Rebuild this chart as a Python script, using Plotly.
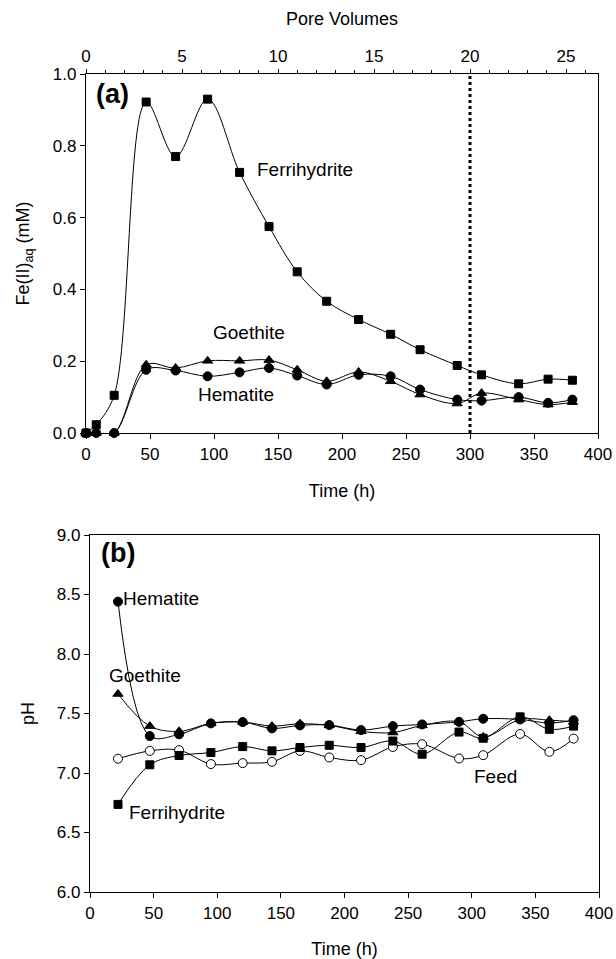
import plotly.graph_objects as go

# ---------------- data: panel (a) ----------------
time_a = [0, 8, 22, 47, 70, 95, 120, 143, 165, 188, 213, 238, 261, 290, 309, 338, 361, 380]
fe_ferrihydrite = [0.0, 0.023, 0.105, 0.922, 0.770, 0.930, 0.726, 0.575, 0.449, 0.367,
                   0.316, 0.275, 0.232, 0.188, 0.162, 0.137, 0.150, 0.147]
fe_goethite = [0.0, 0.0, 0.0, 0.190, 0.181, 0.201, 0.201, 0.203, 0.176, 0.144,
               0.170, 0.144, 0.107, 0.082, 0.111, 0.093, 0.079, 0.086]
fe_hematite = [0.0, 0.0, 0.0, 0.176, 0.174, 0.158, 0.169, 0.181, 0.160, 0.135,
               0.162, 0.158, 0.121, 0.093, 0.090, 0.100, 0.084, 0.093]

# ---------------- data: panel (b) ----------------
time_b = [22, 47, 70, 95, 120, 143, 165, 188, 213, 238, 261, 290, 309, 338, 361, 380]
ph_hematite = [8.44, 7.31, 7.325, 7.417, 7.428, 7.375, 7.40, 7.403, 7.361, 7.394,
               7.408, 7.43, 7.456, 7.45, 7.42, 7.444]
ph_goethite = [7.664, 7.394, 7.35, 7.417, 7.428, 7.394, 7.414, 7.40, 7.35, 7.34,
               7.40, 7.43, 7.303, 7.45, 7.444, 7.43]
ph_ferrihydrite = [6.736, 7.069, 7.147, 7.172, 7.222, 7.186, 7.214, 7.233, 7.214, 7.269,
                   7.158, 7.344, 7.292, 7.472, 7.367, 7.394]
ph_feed = [7.12, 7.186, 7.192, 7.075, 7.083, 7.094, 7.186, 7.131, 7.108, 7.219,
           7.242, 7.122, 7.15, 7.328, 7.178, 7.289]

time_ticks = [0, 50, 100, 150, 200, 250, 300, 350, 400]
pv_ticks = [0, 5, 10, 15, 20, 25]
hours_per_pv = 15
breakthrough_time = 300

FONT = "Liberation Sans, Arial, sans-serif"
W, H = 616, 959

fig = go.Figure()

line = dict(color="black", width=1, shape="spline", smoothing=1.0)

def add(x, y, symbol, xa, ya, size=8, fill="black"):
    fig.add_trace(go.Scatter(
        x=x, y=y, mode="lines+markers", xaxis=xa, yaxis=ya,
        line=line, cliponaxis=False, showlegend=False,
        marker=dict(symbol=symbol, size=size, color=fill,
                    line=dict(color="black", width=1))))

# panel a
add(time_a, fe_goethite, "triangle-up", "x", "y", size=9)
add(time_a, fe_hematite, "circle", "x", "y", size=9)
add(time_a, fe_ferrihydrite, "square", "x", "y", size=8)
# invisible trace to activate the pore-volume axis
fig.add_trace(go.Scatter(x=[0, 400 / hours_per_pv], y=[None, None], xaxis="x3", yaxis="y",
                         showlegend=False, hoverinfo="skip"))
# vertical dotted line at 300 h
fig.add_trace(go.Scatter(x=[breakthrough_time, breakthrough_time], y=[0, 1.0],
                         mode="lines", xaxis="x", yaxis="y", showlegend=False,
                         line=dict(color="black", width=3, dash="dot")))

# panel b
add(time_b, ph_feed, "circle", "x2", "y2", size=9, fill="white")
add(time_b, ph_ferrihydrite, "square", "x2", "y2", size=8)
add(time_b, ph_goethite, "triangle-up", "x2", "y2", size=9)
add(time_b, ph_hematite, "circle", "x2", "y2", size=9)

def px_x(a, b):
    return [a / W, b / W]

def px_y(top, bottom):
    return [(H - bottom) / H, (H - top) / H]

ax_common = dict(showline=True, linecolor="black", linewidth=1.2, ticks="outside",
                 ticklen=5, tickwidth=1, tickcolor="black", showgrid=False,
                 zeroline=False, automargin=False,
                 tickfont=dict(family=FONT, size=17, color="black"),
                 title_font=dict(family=FONT, size=18, color="black"))

fig.update_layout(
    width=W, height=H, margin=dict(l=0, r=0, t=0, b=0),
    paper_bgcolor="white", plot_bgcolor="white",
    font=dict(family=FONT, color="black"),
    xaxis=dict(ax_common, domain=px_x(86, 598), anchor="y", range=[0, 400],
               tickvals=time_ticks, title=dict(text="Time (h)", standoff=21)),
    yaxis=dict(ax_common, domain=px_y(74, 433), anchor="x", range=[0, 1.0],
               dtick=0.2, tickformat=".1f", mirror=True,
               title=dict(text="Fe(II)<sub>aq</sub> (mM)", standoff=18)),
    xaxis3=dict(ax_common, domain=px_x(86, 598), anchor="y", overlaying="x",
                side="top", range=[0, 400 / hours_per_pv], tickvals=pv_ticks,
                ticklen=4,
                minor=dict(dtick=1, ticks="outside", ticklen=3, tickcolor="black"),
                title=dict(text="Pore Volumes", standoff=16)),
    xaxis2=dict(ax_common, domain=px_x(90, 599), anchor="y2", range=[0, 400],
                tickvals=time_ticks, mirror=True,
                title=dict(text="Time (h)", standoff=21)),
    yaxis2=dict(ax_common, domain=px_y(535, 892), anchor="x2", range=[6.0, 9.0],
                dtick=0.5, tickformat=".1f", mirror=True,
                title=dict(text="pH", standoff=17)),
)

lab = dict(family=FONT, size=19, color="black")
bold = dict(family=FONT, size=27, color="black")
annots = [
    dict(xref="x", yref="y", x=6, y=0.945, text="<b>(a)</b>", font=bold, xanchor="left"),
    dict(xref="x", yref="y", x=132, y=0.733, text="Ferrihydrite", font=lab, xanchor="left"),
    dict(xref="x", yref="y", x=127, y=0.28, text="Goethite", font=lab, xanchor="center"),
    dict(xref="x", yref="y", x=117, y=0.108, text="Hematite", font=lab, xanchor="center"),
    dict(xref="x2", yref="y2", x=7, y=8.85, text="<b>(b)</b>", font=bold, xanchor="left"),
    dict(xref="x2", yref="y2", x=24, y=8.47, text="Hematite", font=lab, xanchor="left"),
    dict(xref="x2", yref="y2", x=13, y=7.82, text="Goethite", font=lab, xanchor="left"),
    dict(xref="x2", yref="y2", x=29, y=6.67, text="Ferrihydrite", font=lab, xanchor="left"),
    dict(xref="x2", yref="y2", x=300, y=6.97, text="Feed", font=lab, xanchor="left"),
]
for a in annots:
    a.update(showarrow=False, yanchor="middle")
fig.update_layout(annotations=annots)

fig.write_html("out.html", config={"displayModeBar": False},
               post_script="document.body.style.margin='0px';document.body.style.overflow='hidden';")
